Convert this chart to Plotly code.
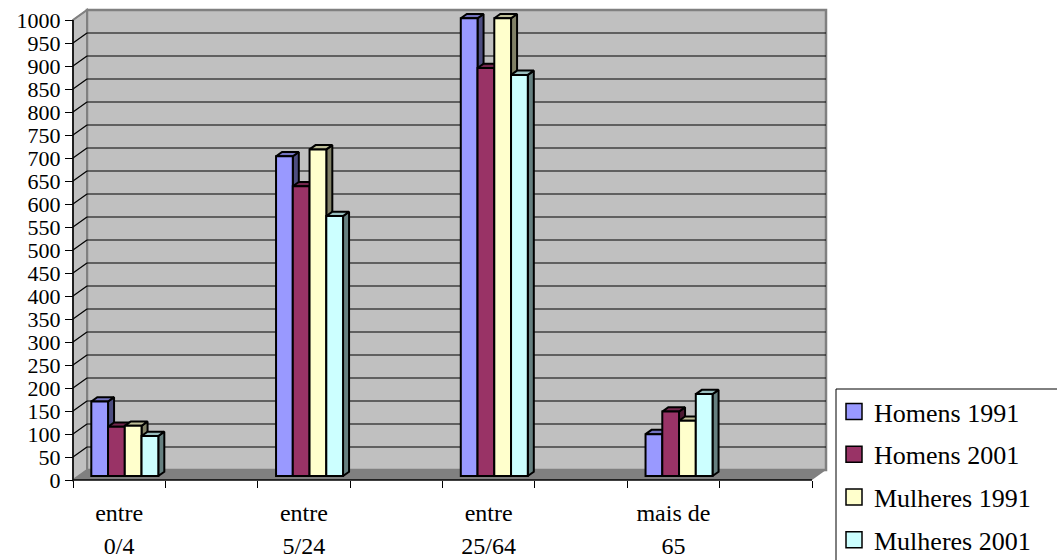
import plotly.graph_objects as go

# ---- data -------------------------------------------------------------
categorias_l1 = ["entre", "entre", "entre", "mais de"]
categorias_l2 = ["0/4", "5/24", "25/64", "65"]
series = ["Homens 1991", "Homens 2001", "Mulheres 1991", "Mulheres 2001"]
homens_1991 = [162, 695, 995, 91]
homens_2001 = [107, 630, 887, 140]
mulheres_1991 = [109, 710, 995, 120]
mulheres_2001 = [87, 565, 872, 178]
y_ticks = list(range(0, 1001, 50))

valores = [homens_1991, homens_2001, mulheres_1991, mulheres_2001]

# front / top / side colours of each series
cores = [
    ("#9999FF", "#7373BF", "#4D4D80"),
    ("#993366", "#73264D", "#4D1A33"),
    ("#FFFFCC", "#BFBF99", "#808066"),
    ("#CCFFFF", "#99BFBF", "#668080"),
]

# ---- geometry -----------------------------------------------------------
W_FIG, H_FIG = 1057, 560
PLOT_L, PLOT_R, PLOT_T, PLOT_B = 70, 829, 7, 482
ORIGIN_X, ORIGIN_Y = 73, 480          # pixel of the front-left corner
PX_SLOT = 92.375                      # pixels per category slot
PX_UNIT = 0.46                        # pixels per value unit
N_SLOTS = 8
DX = 14 / PX_SLOT                     # depth offset of the back wall
DY = 10 / PX_UNIT
F = 0.40                              # depth of the bars' front plane
G = 0.43                              # depth of the bars themselves
W = 16.75 / PX_SLOT                   # bar width
Y_MAX = 1000

x_range = [-0.5 - (ORIGIN_X - PLOT_L) / PX_SLOT,
           -0.5 + (PLOT_R - ORIGIN_X) / PX_SLOT]
y_range = [-(PLOT_B - ORIGIN_Y) / PX_UNIT, (ORIGIN_Y - PLOT_T) / PX_UNIT]

slots = [2 * i for i in range(len(categorias_l1))]

fig = go.Figure()

# ---- walls, floor and gridlines (shapes in data coordinates) --------------
shapes = []
x_left, x_right = -0.5, N_SLOTS - 0.5
shapes.append(dict(type="rect", xref="x", yref="y", layer="below",
                   x0=x_left + DX, x1=x_right + DX, y0=DY, y1=Y_MAX + DY,
                   fillcolor="#C0C0C0", line=dict(color="#808080", width=2.5)))
shapes.append(dict(type="path", xref="x", yref="y", layer="below",
                   path=(f"M{x_left},0 L{x_left + DX},{DY} "
                         f"L{x_left + DX},{Y_MAX + DY} L{x_left},{Y_MAX} Z"),
                   fillcolor="#C0C0C0", line=dict(color="#808080", width=2)))
shapes.append(dict(type="path", xref="x", yref="y", layer="below",
                   path=(f"M{x_left},0 L{x_right},0 L{x_right + DX},{DY} "
                         f"L{x_left + DX},{DY} Z"),
                   fillcolor="#808080", line=dict(width=0)))
for v in y_ticks[1:]:
    if v < Y_MAX:
        shapes.append(dict(type="line", xref="x", yref="y", layer="below",
                           x0=x_left + DX, x1=x_right + DX, y0=v + DY, y1=v + DY,
                           line=dict(color="#000000", width=1.2)))
    shapes.append(dict(type="line", xref="x", yref="y", layer="below",
                       x0=x_left, x1=x_left + DX, y0=v, y1=v + DY,
                       line=dict(color="#000000" if v < Y_MAX else "#808080",
                                 width=1.2)))
# axis lines
shapes.append(dict(type="line", xref="x", yref="y", layer="below",
                   x0=x_left, x1=x_left, y0=0, y1=Y_MAX,
                   line=dict(color="#000000", width=1.5)))
shapes.append(dict(type="line", xref="x", yref="y", layer="below",
                   x0=x_left, x1=x_right, y0=0, y1=0,
                   line=dict(color="#000000", width=1.5)))
# legend frame
shapes.append(dict(type="rect", xref="paper", yref="paper", layer="above",
                   x0=(836 - PLOT_L) / (PLOT_R - PLOT_L), x1=1.5,
                   y0=-0.5, y1=(PLOT_B - 389) / (PLOT_B - PLOT_T),
                   line=dict(color="#000000", width=1)))

# ---- bars: side and top faces (main subplot) ------------------------------
for j, vals in enumerate(valores):
    front, top, side = cores[j]
    sx, sy, tx, ty = [], [], [], []
    for s, v in zip(slots, vals):
        cx = s + (j - 1.5) * W + F * DX
        x0, x1 = cx - W / 2, cx + W / 2
        b = F * DY
        t = b + v
        sx += [x1, x1, x1 + G * DX, x1 + G * DX, x1, None]
        sy += [b, t, t + G * DY, b + G * DY, b, None]
        tx += [x0, x1, x1 + G * DX, x0 + G * DX, x0, None]
        ty += [t, t, t + G * DY, t + G * DY, t, None]
    fig.add_trace(go.Scatter(x=sx, y=sy, mode="lines", fill="toself",
                             fillcolor=side, line=dict(color="#000000", width=2),
                             showlegend=False, hoverinfo="skip",
                             xaxis="x", yaxis="y"))
    fig.add_trace(go.Scatter(x=tx, y=ty, mode="lines", fill="toself",
                             fillcolor=top, line=dict(color="#000000", width=2),
                             showlegend=False, hoverinfo="skip",
                             xaxis="x", yaxis="y"))

# ---- bars: front faces (overlaid subplot, drawn above the faces) -----------
for j, vals in enumerate(valores):
    front = cores[j][0]
    xs = [s + (j - 1.5) * W + F * DX for s in slots]
    fig.add_trace(go.Bar(x=xs, y=vals, base=F * DY, width=W, name=series[j],
                         marker=dict(color=front,
                                     line=dict(color="#000000", width=2)),
                         showlegend=False, xaxis="x2", yaxis="y"))

# ---- legend entries ------------------------------------------------------
for j, nome in enumerate(series):
    fig.add_trace(go.Scatter(x=[None], y=[None], mode="markers", name=nome,
                             legendgroup=nome,
                             marker=dict(symbol="square", size=16,
                                         color=cores[j][0],
                                         line=dict(color="#000000", width=1.5)),
                             xaxis="x3", yaxis="y"))

pos_x = (PLOT_B - ORIGIN_Y) / (PLOT_B - PLOT_T)
pos_y = (ORIGIN_X - PLOT_L) / (PLOT_R - PLOT_L)
SERIF = "Liberation Serif, Times New Roman, serif"
font = dict(family=SERIF, size=24, color="#000000")
font_y = dict(family=SERIF, size=22, color="#000000")

fig.update_layout(
    width=W_FIG, height=H_FIG,
    margin=dict(l=PLOT_L, r=W_FIG - PLOT_R, t=PLOT_T, b=H_FIG - PLOT_B,
                autoexpand=False),
    paper_bgcolor="#FFFFFF", plot_bgcolor="rgba(0,0,0,0)",
    font=font, barmode="overlay", shapes=shapes,
    xaxis=dict(domain=[0, 1], range=x_range, anchor="free", position=pos_x,
               tickvals=[k - 0.5 for k in range(N_SLOTS + 1)],
               ticks="outside", ticklen=7, tickwidth=1, tickcolor="#000000",
               showticklabels=False, showgrid=False, zeroline=False,
               showline=False, fixedrange=True, automargin=False),
    xaxis2=dict(overlaying="x", range=x_range, anchor="free", position=pos_x,
                tickvals=slots, ticktext=categorias_l1, ticks="",
                ticklabelstandoff=16, tickfont=font, automargin=False,
                showgrid=False, zeroline=False, showline=False, fixedrange=True),
    xaxis3=dict(overlaying="x", range=x_range, anchor="free", position=pos_x,
                tickvals=slots, ticktext=categorias_l2, ticks="",
                ticklabelstandoff=49, tickfont=font, automargin=False,
                showgrid=False, zeroline=False, showline=False, fixedrange=True),
    yaxis=dict(domain=[0, 1], range=y_range, anchor="free", position=pos_y,
               tickvals=y_ticks, ticks="outside", ticklen=8, tickwidth=1,
               tickcolor="#000000", tickfont=font_y, automargin=False,
               showgrid=False, zeroline=False, showline=False, fixedrange=True),
    legend=dict(x=(834 - PLOT_L) / (PLOT_R - PLOT_L),
                y=(PLOT_B - 388) / (PLOT_B - PLOT_T),
                xanchor="left", yanchor="top",
                font=dict(family=SERIF, size=26, color="#000000"),
                bgcolor="rgba(0,0,0,0)", borderwidth=0,
                traceorder="grouped", tracegroupgap=6, itemsizing="trace",
                itemclick=False, itemdoubleclick=False),
    showlegend=True,
)

fig.write_html("out.html")
